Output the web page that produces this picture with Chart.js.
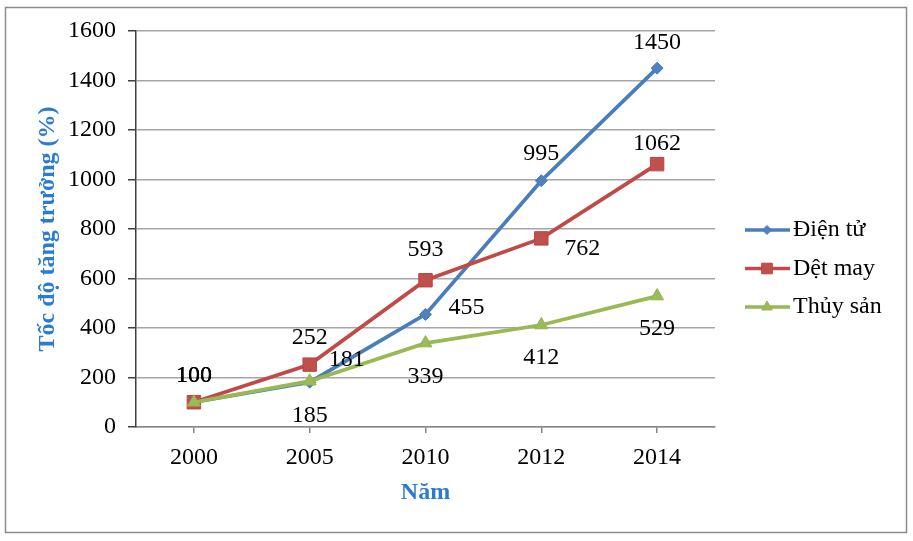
<!DOCTYPE html>
<html>
<head>
<meta charset="utf-8">
<script src="https://cdn.jsdelivr.net/npm/chart.js@4.4.1/dist/chart.umd.min.js"></script>
<style>
html, body { margin: 0; padding: 0; background: #fff; }
#wrap { width: 913px; height: 541px; }
</style>
</head>
<body>
<div id="wrap"><canvas id="growthChart" width="913" height="541"></canvas></div>
<script>
// data
const years = ['2000', '2005', '2010', '2012', '2014'];
const dienTu = [100, 181, 455, 995, 1450];
const detMay = [100, 252, 593, 762, 1062];
const thuySan = [100, 185, 339, 412, 529];
const seriesNames = ['Điện tử', 'Dệt may', 'Thủy sản'];
const yMin = 0, yMax = 1600, yStep = 200;

// where each value label sits relative to its point (dx, dy)
const labelOffsets = [
    [[0, -27], [37, -22], [41, -7], [0, -27], [0, -25]],
    [[0, -27], [0, -27], [0, -31], [41, 10], [0, -20]],
    [[0, -27], [0, 34], [0, 34], [0, 33], [0, 33]]
];

const serif = 'Liberation Serif, Times New Roman, serif';
const titleBlue = '#2b7cd0';

const decor = {
    id: 'decor',
    beforeDraw: (chart) => {
        const ctx = chart.ctx;
        ctx.save();
        ctx.fillStyle = '#fff';
        ctx.fillRect(0, 0, chart.width, chart.height);
        ctx.strokeStyle = '#8c8c8c';
        ctx.lineWidth = 1.5;
        ctx.strokeRect(5.5, 7.5, 901, 525);
        ctx.restore();
    },
    afterDatasetsDraw: (chart) => {
        const ctx = chart.ctx;
        ctx.save();
        ctx.font = '24px ' + serif;
        ctx.fillStyle = '#000';
        ctx.textAlign = 'center';
        ctx.textBaseline = 'middle';
        chart.data.datasets.forEach((ds, i) => {
            chart.getDatasetMeta(i).data.forEach((pt, j) => {
                const off = labelOffsets[i][j];
                ctx.fillText(String(ds.data[j]), pt.x + off[0], pt.y + off[1]);
            });
        });
        ctx.restore();
    },
    afterDraw: (chart) => {
        // legend: line with marker, like the spreadsheet one
        const ctx = chart.ctx;
        const legendRadius = [4.5, 7.5, 6];
        ctx.save();
        chart.data.datasets.forEach((ds, i) => {
            const y = 230 + i * 38.5;
            ctx.strokeStyle = ds.borderColor;
            ctx.lineWidth = 3.5;
            ctx.beginPath();
            ctx.moveTo(745, y);
            ctx.lineTo(790, y);
            ctx.stroke();
            ctx.fillStyle = ds.pointBackgroundColor;
            ctx.strokeStyle = ds.pointBorderColor;
            ctx.lineWidth = 1;
            Chart.helpers.drawPoint(ctx, {
                pointStyle: ds.pointStyle,
                radius: legendRadius[i],
                rotation: 0,
                borderWidth: 1
            }, 767, y);
            ctx.font = '24px ' + serif;
            ctx.fillStyle = '#000';
            ctx.textAlign = 'left';
            ctx.textBaseline = 'middle';
            ctx.fillText(ds.label, 793, y);
        });
        ctx.restore();
    }
};

const ctx = document.getElementById('growthChart').getContext('2d');
const growthChart = new Chart(ctx, {
    type: 'line',
    data: {
        labels: years,
        datasets: [{
            label: seriesNames[0],
            data: dienTu,
            order: 3,
            borderColor: '#4a7ebb',
            borderWidth: 3.75,
            pointStyle: 'rectRot',
            pointRadius: 6,
            pointBackgroundColor: '#4f81bd',
            pointBorderColor: '#4a7ebb',
            pointBorderWidth: 1,
            tension: 0
        }, {
            label: seriesNames[1],
            data: detMay,
            order: 2,
            borderColor: '#be4b48',
            borderWidth: 3.75,
            pointStyle: 'rect',
            pointRadius: 9.5,
            pointBackgroundColor: '#c0504d',
            pointBorderColor: '#b8463f',
            pointBorderWidth: 1,
            tension: 0
        }, {
            label: seriesNames[2],
            data: thuySan,
            order: 1,
            borderColor: '#98b954',
            borderWidth: 3.75,
            pointStyle: 'triangle',
            pointRadius: 7.5,
            pointBackgroundColor: '#9bbb59',
            pointBorderColor: '#93b551',
            pointBorderWidth: 1,
            tension: 0
        }]
    },
    options: {
        responsive: false,
        animation: false,
        devicePixelRatio: 1,
        layout: {
            padding: { left: 33, top: 31, right: 198, bottom: 34 }
        },
        plugins: {
            legend: { display: false },
            tooltip: { enabled: false }
        },
        scales: {
            x: {
                offset: true,
                grid: {
                    offset: false,
                    drawOnChartArea: false,
                    drawTicks: true,
                    tickLength: 6,
                    color: '#868686',
                    lineWidth: 1.5
                },
                border: { color: '#868686', width: 1.5 },
                ticks: {
                    color: '#000',
                    padding: 10,
                    font: { family: serif, size: 24 }
                },
                title: {
                    display: true,
                    text: 'Năm',
                    color: titleBlue,
                    padding: { top: 0, bottom: 0 },
                    font: { family: serif, size: 24, weight: 'bold' }
                },
                afterFit: (scale) => { scale.height = 80; }
            },
            y: {
                min: yMin,
                max: yMax,
                grid: {
                    color: '#a6a6a6',
                    lineWidth: 1.5,
                    tickLength: 8,
                    tickColor: '#404040'
                },
                border: { color: '#404040', width: 1.5 },
                ticks: {
                    stepSize: yStep,
                    color: '#000',
                    padding: 12,
                    font: { family: serif, size: 24 },
                    callback: (value) => String(value)
                },
                title: {
                    display: true,
                    text: 'Tốc độ tăng trưởng (%)',
                    color: titleBlue,
                    padding: { top: 0, bottom: 0 },
                    font: { family: serif, size: 24, weight: 'bold' }
                },
                afterFit: (scale) => { scale.width = 103; }
            }
        }
    },
    plugins: [decor]
});
</script>
</body>
</html>
